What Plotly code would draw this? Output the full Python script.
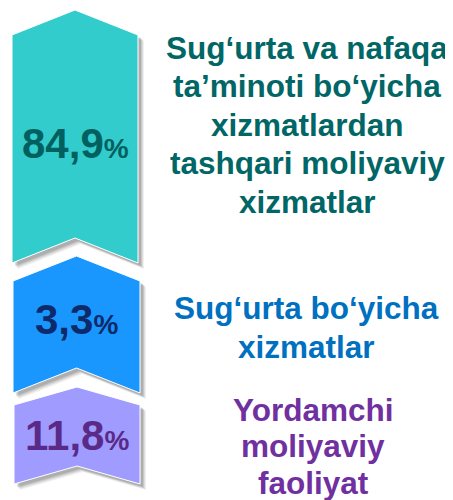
import plotly.graph_objects as go

# ---- data ----
categories = [
    "Sug‘urta va nafaqa<br>ta’minoti bo‘yicha<br>xizmatlardan<br>tashqari moliyaviy<br>xizmatlar",
    "Sug‘urta bo‘yicha<br>xizmatlar",
    "Yordamchi<br>moliyaviy<br>faoliyat",
]
values = [84.9, 3.3, 11.8]
value_labels = ["84,9", "3,3", "11,8"]

# ---- styles / layout ----
fill_colors = ["#33CCCC", "#1A96FF", "#9F9BFF"]
value_colors = ["#006060", "#0D2A6B", "#5A2A88"]
text_colors = ["#006666", "#0070C0", "#7030A0"]
# chevron geometry: x0, x1, top tip y, depth, bottom y
chevrons = [
    (12, 138, 10, 25, 263),
    (13, 140, 256, 25, 393),
    (14, 140, 387, 18, 484),
]
value_y = [143, 319, 435]
text_x = [307, 306, 313]
first_baseline = [58, 318, 420]
line_gap = [38.5, 39, 36.5]
TEXT_SIZE = 31.5

FONT = "Arial, Liberation Sans, sans-serif"
OFF = 8  # page body margin compensation

fig = go.Figure()

def chevron_xy(x0, x1, yt, d, yb, dx=0, dy=0):
    xc = (x0 + x1) / 2
    xs = [x0, xc, x1, x1, xc, x0, x0]
    ys = [yt + d, yt, yt + d, yb, yb - d, yb, yt + d]
    return [x + dx for x in xs], [y + dy for y in ys]

for i, (geo, col) in enumerate(zip(chevrons, fill_colors)):
    # soft shadow
    for off, op in [(6, 0.06), (5, 0.08), (4, 0.10), (3, 0.12)]:
        xs, ys = chevron_xy(*geo, dx=off, dy=off)
        fig.add_trace(go.Scatter(x=xs, y=ys, fill="toself", mode="lines",
                                 line=dict(width=0, color="rgba(0,0,0,0)"),
                                 fillcolor=f"rgba(0,0,0,{op})", hoverinfo="skip",
                                 showlegend=False))
    xs, ys = chevron_xy(*geo)
    fig.add_trace(go.Scatter(x=xs, y=ys, fill="toself", mode="lines",
                             line=dict(width=1, color="white"),
                             fillcolor=col, name=categories[i].replace("<br>", " "),
                             hoverinfo="name", showlegend=False))

for i, (lab, v) in enumerate(zip(value_labels, values)):
    x0, x1 = chevrons[i][0], chevrons[i][1]
    fig.add_annotation(x=(x0 + x1) / 2, y=value_y[i], xref="x", yref="y",
                       text=f"<b>{lab}<span style='font-size:28px'>%</span></b>",
                       showarrow=False,
                       font=dict(family=FONT, size=42, color=value_colors[i]))
    lines = categories[i].split("<br>")
    for k, ln in enumerate(lines):
        base = first_baseline[i] + k * line_gap[i]
        fig.add_annotation(x=text_x[i], y=base - 0.32 * TEXT_SIZE, xref="x", yref="y",
                           text=f"<b>{ln}</b>", showarrow=False,
                           font=dict(family=FONT, size=TEXT_SIZE, color=text_colors[i]))

fig.update_layout(
    width=453, height=500,
    margin=dict(l=0, r=0, t=0, b=0),
    paper_bgcolor="white", plot_bgcolor="white",
    xaxis=dict(range=[OFF, 453 + OFF], visible=False, fixedrange=True),
    yaxis=dict(range=[500 + OFF, OFF], visible=False, fixedrange=True),
    showlegend=False,
)

fig.write_html("out.html")
